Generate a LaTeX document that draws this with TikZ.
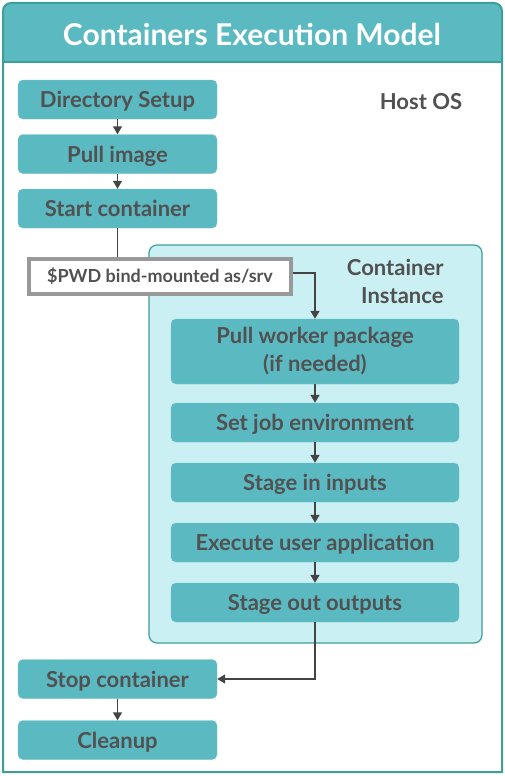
\documentclass[tikz,border=0pt]{standalone}
\usepackage{fontspec}
\setmainfont{Lato}
\usetikzlibrary{arrows.meta}
\definecolor{boxteal}{HTML}{5BB9C2}
\definecolor{edgeteal}{HTML}{3D9F98}
\definecolor{paleteal}{HTML}{CAF0F4}
\definecolor{textgray}{HTML}{515151}
\definecolor{linegray}{HTML}{444444}
\definecolor{mountgray}{HTML}{999999}
\tikzset{
  stepbox/.style={rounded corners=5pt, fill=boxteal, draw=boxteal!85!white, text=textgray,
    font=\bfseries\fontsize{22}{26}\selectfont, minimum height=39pt, inner sep=0pt, align=center,
    text height=18pt, text depth=2pt},
  hostbox/.style={stepbox, minimum width=199pt},
  inbox/.style={stepbox, minimum width=288pt},
  flow/.style={draw=linegray, line width=1.4pt, -{Triangle[length=8pt,width=9pt]}},
}
\begin{document}
\begin{tikzpicture}[x=1pt,y=-1pt]
    \useasboundingbox (0,0) rectangle (505,776);
    % frame and title
    \fill[white] (3,3) rectangle (502,772);
    \fill[boxteal] (3,62) [rounded corners=8pt] -- (3,3) -- (502,3) [sharp corners] -- (502,62) -- cycle;
    \draw[edgeteal, line width=2pt] (3,772) [rounded corners=8pt] -- (3,3) -- (502,3) [sharp corners] -- (502,772) -- cycle;
    \draw[edgeteal, line width=2pt] (3,62) -- (502,62);
    \node[text=white, font=\bfseries\fontsize{30}{34}\selectfont] (title) at (252,34) {Containers Execution Model};
    \node[text=textgray, font=\bfseries\fontsize{22}{26}\selectfont] (host) at (421,102) {Host OS};
    % container instance
    \draw[edgeteal, fill=paleteal, line width=1.2pt, rounded corners=8pt] (149,245) rectangle (482,643);
    \node[text=textgray, font=\bfseries\fontsize{22}{28}\selectfont, align=right, anchor=north east] (inst) at (447,256) {Container\\Instance};
    % host steps
    \node[hostbox] (dir) at (117.5,99.5) {Directory Setup};
    \node[hostbox] (pull) at (117.5,154) {Pull image};
    \node[hostbox] (start) at (117.5,208.5) {Start container};
    \node[hostbox] (stop) at (117.5,679) {Stop container};
    \node[hostbox] (clean) at (117.5,740) {Cleanup};
    % bind mount
    \node[draw=mountgray, fill=white, line width=4pt, text=textgray, font=\bfseries\fontsize{18}{22}\selectfont,
      minimum width=262pt, minimum height=35pt, inner sep=0pt, text height=14pt, text depth=2pt] (mount) at (160,276.5) {\$PWD bind-mounted as/srv};
    % container steps
    \node[inbox, minimum height=65pt, font=\bfseries\fontsize{22}{28}\selectfont, text height=, text depth=, yshift=-1pt] (worker) at (315,350.5) {Pull worker package\\(if needed)};
    \node[inbox] (env) at (315,422.5) {Set job environment};
    \node[inbox] (stagein) at (315,482.5) {Stage in inputs};
    \node[inbox] (exec) at (315,542.5) {Execute user application};
    \node[inbox] (stageout) at (315,602.5) {Stage out outputs};
    % connectors
    \draw[flow] (dir) -- (pull);
    \draw[flow] (pull) -- (start);
    \draw[draw=linegray, line width=1.4pt] (start) -- (mount.north -| start);
    \draw[flow] (mount.east |- 0,273) -| (worker.north);
    \draw[flow] (worker) -- (env);
    \draw[flow] (env) -- (stagein);
    \draw[flow] (stagein) -- (exec);
    \draw[flow] (exec) -- (stageout);
    \draw[flow] (stageout) |- (stop);
    \draw[flow] (stop) -- (clean);
\end{tikzpicture}
\end{document}
